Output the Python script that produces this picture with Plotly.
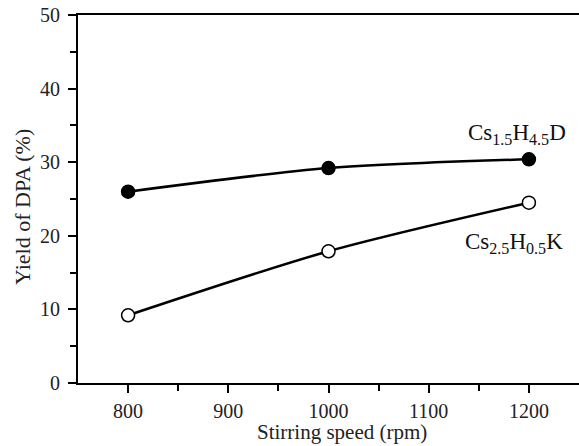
import plotly.graph_objects as go

speed = [800, 1000, 1200]
yield_d = [26.0, 29.2, 30.4]
yield_k = [9.2, 17.9, 24.5]
label_d = "Cs<sub>1.5</sub>H<sub>4.5</sub>D"
label_k = "Cs<sub>2.5</sub>H<sub>0.5</sub>K"
x_ticks = [800, 900, 1000, 1100, 1200]
y_ticks = [0, 10, 20, 30, 40, 50]

FONT = "Liberation Serif"
L, R, T, B = 78, 579, 15, 383  # plot area pixels

fig = go.Figure()
fig.add_trace(go.Scatter(
    x=speed, y=yield_d, mode="lines+markers",
    line=dict(color="black", width=2.5, shape="spline", smoothing=0.8),
    marker=dict(symbol="circle", size=13, color="black", line=dict(color="black", width=1.5)),
    showlegend=False))
fig.add_trace(go.Scatter(
    x=speed, y=yield_k, mode="lines+markers",
    line=dict(color="black", width=2.5, shape="spline", smoothing=0.8),
    marker=dict(symbol="circle", size=13, color="white", line=dict(color="black", width=1.5)),
    showlegend=False))

fig.add_annotation(x=1188, y=33.9, text=label_d, showarrow=False,
                   font=dict(family=FONT, size=23, color="#111"))
fig.add_annotation(x=1185, y=19.0, text=label_k, showarrow=False,
                   font=dict(family=FONT, size=23, color="#111"))

fig.add_annotation(x=(342 - L) / (R - L), y=-(432 - B) / (B - T), xref="paper", yref="paper",
                   text="Stirring speed (rpm)", showarrow=False, yanchor="middle",
                   font=dict(family=FONT, size=21, color="#222"))
fig.add_annotation(x=-(L - 22) / (R - L), y=(B - 207) / (B - T), xref="paper", yref="paper",
                   text="Yield of DPA (%)", showarrow=False, textangle=-90,
                   xanchor="center", yanchor="middle",
                   font=dict(family=FONT, size=22, color="#222"))

fig.update_layout(
    width=579, height=446,
    margin=dict(l=L, r=579 - R, t=T, b=446 - B),
    paper_bgcolor="white", plot_bgcolor="white",
    font=dict(family=FONT, size=20, color="#222"),
    xaxis=dict(range=[750, 1250], tickvals=x_ticks, ticks="outside", ticklen=8, tickwidth=1.5,
               showline=True, linecolor="black", linewidth=2, mirror=True,
               showgrid=False, zeroline=False,
               tickfont=dict(family=FONT, size=20, color="#222"),
               minor=dict(tickvals=[850, 950, 1050, 1150], ticks="outside", ticklen=6,
                          tickwidth=1.5, tickcolor="black"),
               tickcolor="black", ticklabelstandoff=1),
    yaxis=dict(range=[0, 50], tickvals=y_ticks, ticks="outside", ticklen=8, tickwidth=1.5,
               showline=True, linecolor="black", linewidth=2,
               showgrid=False, zeroline=False,
               tickfont=dict(family=FONT, size=20, color="#222"),
               minor=dict(tickvals=[5, 15, 25, 35, 45], ticks="outside", ticklen=6,
                          tickwidth=1.5, tickcolor="black"),
               tickcolor="black", ticklabelstandoff=4),
)

fig.write_html("out.html")
